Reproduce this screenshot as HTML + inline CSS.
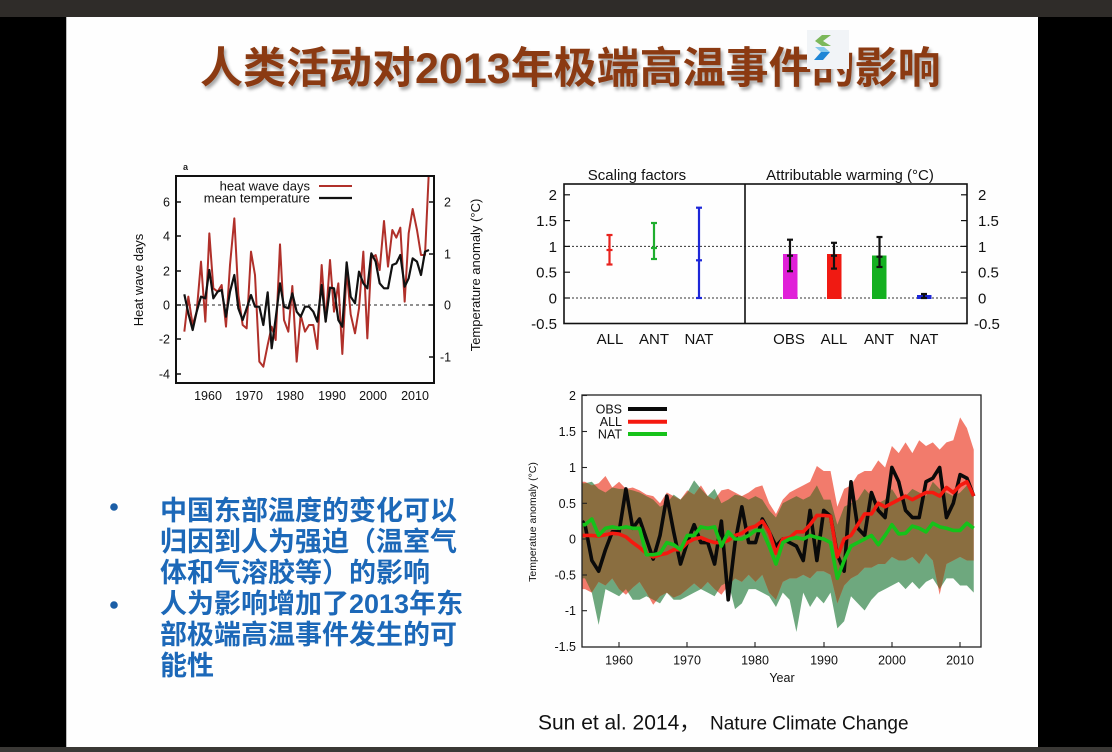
<!DOCTYPE html>
<html>
<head>
<meta charset="utf-8">
<style>
  html,body{margin:0;padding:0;background:#000;}
  #root{position:relative;width:1112px;height:752px;overflow:hidden;background:#000;}
  .topbar{position:absolute;left:0;top:0;width:1112px;height:17px;background:#2f2c29;}
  .botbar{position:absolute;left:0;top:747px;width:1112px;height:5px;background:#3a3835;}
  .slide{position:absolute;left:66px;top:17px;width:972px;height:730px;background:#fefefe;border-left:1px solid #bbb;box-sizing:border-box;}
  .title{position:absolute;left:200px;top:48px;font-family:"Liberation Sans","Noto Sans CJK SC",sans-serif;font-weight:bold;font-size:43px;line-height:43px;color:#8b3a12;white-space:nowrap;text-shadow:2px 3px 3px rgba(0,0,0,0.35);}
  .bl{position:absolute;left:160px;font-family:"Liberation Sans","Noto Sans CJK SC",sans-serif;font-weight:bold;font-size:27px;line-height:31px;color:#1c68b8;white-space:nowrap;}
  svg{position:absolute;left:0;top:0;}
</style>
</head>
<body>
<div id="root">
  <div class="topbar"></div>
  <div class="slide"></div>
  <div class="botbar"></div>

  <div class="title">人类活动对2013年极端高温事件的影响</div>

  <div class="bl" style="top:496px;">中国东部温度的变化可以</div>
  <div class="bl" style="top:527px;">归因到人为强迫（温室气</div>
  <div class="bl" style="top:558px;">体和气溶胶等）的影响</div>
  <div class="bl" style="top:589px;">人为影响增加了2013年东</div>
  <div class="bl" style="top:620px;">部极端高温事件发生的可</div>
  <div class="bl" style="top:651px;">能性</div>

  <svg width="1112" height="752" viewBox="0 0 1112 752" xmlns="http://www.w3.org/2000/svg" font-family="Liberation Sans, Arial, sans-serif">
    <defs>
      <clipPath id="clipL"><rect x="176" y="176" width="258" height="207"/></clipPath>
      <clipPath id="clipB"><rect x="582" y="395" width="399" height="252"/></clipPath>
      <clipPath id="clipNat">
        <polygon points="-0.5,78 0,78 1,80 2,70 3,65 4,72 5,70 6,70 7,68 8,65 9,60 10,55 11,45 12,50 13,62 14,55 15,65 16,82 17,70 18,60 19,70 20,50 21,55 22,62 23,60 24,55 25,60 26,55 27,40 28,30 29,50 30,55 31,60 32,55 33,60 34,75 35,55 36,55 37,20 38,45 39,50 40,55 41,70 42,60 43,50 44,55 45,70 46,55 47,60 48,70 49,65 50,60 51,80 52,70 53,65 54,60 55,65 56,75 57,60 57,-75 56,-65 55,-65 54,-55 53,-55 52,-70 51,-55 50,-60 49,-70 48,-60 47,-70 46,-60 45,-65 44,-70 43,-75 42,-85 41,-100 40,-90 39,-80 38,-115 37,-125 36,-75 35,-90 34,-80 33,-95 32,-75 31,-130 30,-85 29,-75 28,-95 27,-80 26,-75 25,-70 24,-70 23,-90 22,-98 21,-60 20,-65 19,-80 18,-75 17,-70 16,-75 15,-80 14,-85 13,-85 12,-75 11,-90 10,-85 9,-80 8,-85 7,-85 6,-70 5,-80 4,-75 3,-70 2,-120 1,-75 0,-55 -0.5,-55"/>
      </clipPath>
    </defs>

    <!-- logo -->
    <rect x="807" y="30" width="42" height="39" fill="#f1f4f7"/>
    <polygon points="822,35 831,35 823,41 831,46 822,46 815,41" fill="#7cb85a"/>
    <polygon points="815,47 824,47 830,52 821,52" fill="#86c8ec"/>
    <polygon points="821,52 830,52 823,60 814,60" fill="#1f86d6"/>

    <!-- bullets -->
    <circle cx="114" cy="507" r="3.8" fill="#1b5ea6"/>
    <circle cx="114" cy="605" r="3.8" fill="#1b5ea6"/>

    <!-- ============ LEFT CHART ============ -->
    <text x="183" y="170" font-size="9" font-weight="bold" fill="#222">a</text>
    <line x1="176" y1="305" x2="434" y2="305" stroke="#222" stroke-width="1" stroke-dasharray="3,3"/>
    <g clip-path="url(#clipL)">
      <g transform="translate(120,155) scale(0.333333)">
        <polyline fill="none" stroke="#b0302a" stroke-width="2" vector-effect="non-scaling-stroke" stroke-linejoin="round"
          points="193,530 205,425 218,510 230,470 243,320 256,500 268,235 280,400 293,410 305,390 318,515 330,330 343,190 355,420 368,510 380,520 393,290 405,360 418,620 430,635 443,570 455,515 467,555 480,268 492,495 505,530 517,393 530,620 542,480 555,530 567,510 580,510 592,582 605,330 617,500 630,315 642,470 655,385 667,597 680,345 692,478 705,535 717,460 730,290 742,550 754,310 767,300 779,345 792,198 804,335 817,225 829,248 841,218 854,440 866,235 878,162 891,225 903,300 915,300 927,40"/>
        <polyline fill="none" stroke="#111" stroke-width="2.2" vector-effect="non-scaling-stroke" stroke-linejoin="round"
          points="193,418 205,475 218,525 230,470 243,425 256,430 268,345 280,430 293,410 305,405 318,485 330,410 343,360 355,460 368,495 380,460 393,420 405,455 418,455 430,510 443,412 455,580 467,490 480,385 492,455 505,460 517,415 530,470 542,485 555,455 567,455 580,470 592,500 605,390 617,500 630,398 642,400 655,495 667,515 680,322 692,425 705,445 717,350 730,385 742,400 754,295 767,320 779,385 792,400 804,400 817,330 829,325 841,300 854,395 866,370 878,310 891,320 903,360 915,290 927,285"/>
      </g>
    </g>
    <rect x="176" y="176" width="258" height="207" fill="none" stroke="#111" stroke-width="2"/>
    <!-- left ticks -->
    <g stroke="#111" stroke-width="1.5">
      <line x1="176" y1="202" x2="181" y2="202"/><line x1="176" y1="236" x2="181" y2="236"/>
      <line x1="176" y1="271" x2="181" y2="271"/><line x1="176" y1="305" x2="181" y2="305"/>
      <line x1="176" y1="339" x2="181" y2="339"/><line x1="176" y1="374" x2="181" y2="374"/>
      <line x1="429" y1="202" x2="434" y2="202"/><line x1="429" y1="254" x2="434" y2="254"/>
      <line x1="429" y1="305" x2="434" y2="305"/><line x1="429" y1="357" x2="434" y2="357"/>
    </g>
    <g font-size="12.5" fill="#111" text-anchor="end">
      <text x="170" y="206.5">6</text><text x="170" y="240.5">4</text><text x="170" y="275.5">2</text>
      <text x="170" y="309.5">0</text><text x="170" y="343.5">-2</text><text x="170" y="378.5">-4</text>
    </g>
    <g font-size="12.5" fill="#111">
      <text x="444" y="206.5">2</text><text x="444" y="258.5">1</text><text x="444" y="309.5">0</text><text x="440" y="361.5">-1</text>
    </g>
    <g font-size="12.5" fill="#111" text-anchor="middle">
      <text x="208" y="400">1960</text><text x="249" y="400">1970</text><text x="290" y="400">1980</text>
      <text x="332" y="400">1990</text><text x="373" y="400">2000</text><text x="415" y="400">2010</text>
    </g>
    <text transform="translate(143,280) rotate(-90)" font-size="13" fill="#111" text-anchor="middle">Heat wave days</text>
    <text transform="translate(480,275) rotate(-90)" font-size="13" fill="#111" text-anchor="middle">Temperature anomaly (°C)</text>
    <g font-size="13" fill="#111" text-anchor="end">
      <text x="310" y="190.5">heat wave days</text>
      <text x="310" y="202.5">mean temperature</text>
    </g>
    <line x1="319" y1="186" x2="352" y2="186" stroke="#b0302a" stroke-width="2"/>
    <line x1="319" y1="198" x2="352" y2="198" stroke="#111" stroke-width="2.2"/>

    <!-- ============ TOP RIGHT CHART ============ -->
    <g font-size="15" fill="#111" text-anchor="middle">
      <text x="637" y="180">Scaling factors</text>
      <text x="850" y="180">Attributable warming (°C)</text>
    </g>
    <g stroke="#333" stroke-width="1" stroke-dasharray="2,2">
      <line x1="564" y1="246.4" x2="967" y2="246.4"/>
      <line x1="564" y1="298" x2="967" y2="298"/>
    </g>
    <!-- scaling error bars -->
    <g stroke-width="2.2" fill="none">
      <g stroke="#e8231e">
        <line x1="609.5" y1="235" x2="609.5" y2="264.5"/>
        <line x1="606.5" y1="235" x2="612.5" y2="235"/><line x1="606.5" y1="264.5" x2="612.5" y2="264.5"/>
        <line x1="606.5" y1="250" x2="612.5" y2="250"/>
      </g>
      <g stroke="#1fae2e">
        <line x1="654" y1="223" x2="654" y2="259"/>
        <line x1="651" y1="223" x2="657" y2="223"/><line x1="651" y1="259" x2="657" y2="259"/>
        <line x1="651" y1="248" x2="657" y2="248"/>
      </g>
      <g stroke="#1d27d8">
        <line x1="699" y1="207.7" x2="699" y2="298"/>
        <line x1="696" y1="207.7" x2="702" y2="207.7"/><line x1="696" y1="298" x2="702" y2="298"/>
        <line x1="696" y1="260.3" x2="702" y2="260.3"/>
      </g>
    </g>
    <!-- bars -->
    <rect x="783" y="254" width="14.5" height="45" fill="#e020d8"/>
    <rect x="827" y="254" width="14.5" height="45" fill="#f01a12"/>
    <rect x="872" y="255.5" width="14.5" height="43.5" fill="#14b020"/>
    <rect x="917" y="295" width="14.5" height="4" fill="#1d27d8"/>
    <g stroke="#111" stroke-width="2.2">
      <line x1="790" y1="239.7" x2="790" y2="271.2"/><line x1="787" y1="239.7" x2="793" y2="239.7"/><line x1="787" y1="271.2" x2="793" y2="271.2"/><line x1="787" y1="255.7" x2="793" y2="255.7"/>
      <line x1="834" y1="242.8" x2="834" y2="268.6"/><line x1="831" y1="242.8" x2="837" y2="242.8"/><line x1="831" y1="268.6" x2="837" y2="268.6"/><line x1="831" y1="255.7" x2="837" y2="255.7"/>
      <line x1="879.5" y1="237" x2="879.5" y2="267"/><line x1="876.5" y1="237" x2="882.5" y2="237"/><line x1="876.5" y1="267" x2="882.5" y2="267"/><line x1="876.5" y1="256.7" x2="882.5" y2="256.7"/>
      <line x1="924" y1="294" x2="924" y2="298.5"/><line x1="921" y1="294" x2="927" y2="294"/><line x1="921" y1="298" x2="927" y2="298"/>
    </g>
    <rect x="564" y="184" width="403" height="139.5" fill="none" stroke="#111" stroke-width="1.6"/>
    <line x1="745" y1="184" x2="745" y2="323.5" stroke="#111" stroke-width="1.6"/>
    <g stroke="#111" stroke-width="1.2">
      <line x1="564" y1="194.8" x2="570" y2="194.8"/><line x1="564" y1="220.6" x2="570" y2="220.6"/>
      <line x1="564" y1="246.4" x2="570" y2="246.4"/><line x1="564" y1="272.2" x2="570" y2="272.2"/>
      <line x1="564" y1="298" x2="570" y2="298"/>
      <line x1="961" y1="194.8" x2="967" y2="194.8"/><line x1="961" y1="220.6" x2="967" y2="220.6"/>
      <line x1="961" y1="246.4" x2="967" y2="246.4"/><line x1="961" y1="272.2" x2="967" y2="272.2"/>
      <line x1="961" y1="298" x2="967" y2="298"/>
    </g>
    <g font-size="15" fill="#111" text-anchor="end">
      <text x="557" y="200.2">2</text><text x="557" y="226">1.5</text><text x="557" y="251.8">1</text>
      <text x="557" y="277.6">0.5</text><text x="557" y="303.4">0</text><text x="557" y="329">-0.5</text>
    </g>
    <g font-size="15" fill="#111">
      <text x="978" y="200.2">2</text><text x="978" y="226">1.5</text><text x="978" y="251.8">1</text>
      <text x="978" y="277.6">0.5</text><text x="978" y="303.4">0</text><text x="974" y="329">-0.5</text>
    </g>
    <g font-size="15" fill="#111" text-anchor="middle">
      <text x="610" y="344">ALL</text><text x="654" y="344">ANT</text><text x="699" y="344">NAT</text>
      <text x="789" y="344">OBS</text><text x="834" y="344">ALL</text><text x="879" y="344">ANT</text><text x="924" y="344">NAT</text>
    </g>

    <!-- ============ BOTTOM RIGHT CHART ============ -->
    <g clip-path="url(#clipB)">
      <g transform="translate(585,539) scale(6.82,-0.7153)">
        <polygon fill="#6ea87e" points="-0.5,78 0,78 1,80 2,70 3,65 4,72 5,70 6,70 7,68 8,65 9,60 10,55 11,45 12,50 13,62 14,55 15,65 16,82 17,70 18,60 19,70 20,50 21,55 22,62 23,60 24,55 25,60 26,55 27,40 28,30 29,50 30,55 31,60 32,55 33,60 34,75 35,55 36,55 37,20 38,45 39,50 40,55 41,70 42,60 43,50 44,55 45,70 46,55 47,60 48,70 49,65 50,60 51,80 52,70 53,65 54,60 55,65 56,75 57,60 57,-75 56,-65 55,-65 54,-55 53,-55 52,-70 51,-55 50,-60 49,-70 48,-60 47,-70 46,-60 45,-65 44,-70 43,-75 42,-85 41,-100 40,-90 39,-80 38,-115 37,-125 36,-75 35,-90 34,-80 33,-95 32,-75 31,-130 30,-85 29,-75 28,-95 27,-80 26,-75 25,-70 24,-70 23,-90 22,-98 21,-60 20,-65 19,-80 18,-75 17,-70 16,-75 15,-80 14,-85 13,-85 12,-75 11,-90 10,-85 9,-80 8,-85 7,-85 6,-70 5,-80 4,-75 3,-70 2,-120 1,-75 0,-55 -0.5,-55"/>
        <polygon id="allband" fill="#f27b6c" points="-0.5,80 0,80 1,75 2,78 3,88 4,72 5,80 6,70 7,72 8,68 9,62 10,60 11,50 12,65 13,60 14,55 15,68 16,62 17,75 18,60 19,55 20,68 21,70 22,65 23,60 24,65 25,72 26,75 27,50 28,35 29,55 30,65 31,70 32,75 33,80 34,102 35,95 36,95 37,45 38,70 39,75 40,90 41,95 42,95 43,110 44,100 45,130 46,120 47,135 48,120 49,138 50,130 51,135 52,125 53,135 54,138 55,170 56,155 57,125 57,-30 56,-30 55,-25 54,-30 53,-35 52,-78 51,-30 50,-20 49,-35 48,-25 47,-30 46,-30 45,-25 44,-35 43,-35 42,-40 41,-40 40,-50 39,-55 38,-65 37,-90 36,-50 35,-45 34,-45 33,-55 32,-50 31,-55 30,-55 29,-60 28,-85 27,-75 26,-50 25,-60 24,-50 23,-60 22,-55 21,-65 20,-78 19,-70 18,-60 17,-70 16,-62 15,-70 14,-78 13,-82 12,-75 11,-80 10,-92 9,-75 8,-60 7,-68 6,-78 5,-70 4,-55 3,-65 2,-60 1,-75 0,-70 -0.5,-70"/>
        <polygon clip-path="url(#clipNat)" fill="#8a6e40" points="-0.5,80 0,80 1,75 2,78 3,88 4,72 5,80 6,70 7,72 8,68 9,62 10,60 11,50 12,65 13,60 14,55 15,68 16,62 17,75 18,60 19,55 20,68 21,70 22,65 23,60 24,65 25,72 26,75 27,50 28,35 29,55 30,65 31,70 32,75 33,80 34,102 35,95 36,95 37,45 38,70 39,75 40,90 41,95 42,95 43,110 44,100 45,130 46,120 47,135 48,120 49,138 50,130 51,135 52,125 53,135 54,138 55,170 56,155 57,125 57,-30 56,-30 55,-25 54,-30 53,-35 52,-78 51,-30 50,-20 49,-35 48,-25 47,-30 46,-30 45,-25 44,-35 43,-35 42,-40 41,-40 40,-50 39,-55 38,-65 37,-90 36,-50 35,-45 34,-45 33,-55 32,-50 31,-55 30,-55 29,-60 28,-85 27,-75 26,-50 25,-60 24,-50 23,-60 22,-55 21,-65 20,-78 19,-70 18,-60 17,-70 16,-62 15,-70 14,-78 13,-82 12,-75 11,-80 10,-92 9,-75 8,-60 7,-68 6,-78 5,-70 4,-55 3,-65 2,-60 1,-75 0,-70 -0.5,-70"/>
        <polyline fill="none" stroke="#0a0a0a" stroke-width="3.6" vector-effect="non-scaling-stroke" stroke-linejoin="round"
          points="-0.4,25 0,20 1,-30 2,-45 3,-15 4,10 5,10 6,70 7,15 8,28 9,0 10,-28 11,5 12,60 13,10 14,-35 15,-5 16,20 17,-5 18,-5 19,-35 20,25 21,-85 22,-5 23,45 24,-5 25,-5 26,28 27,10 28,-10 29,0 30,-5 31,-10 32,-30 33,40 34,-30 35,40 36,32 37,-22 38,-45 39,80 40,15 41,5 42,65 43,40 44,30 45,100 46,80 47,40 48,30 49,30 50,80 51,85 52,100 53,30 54,50 55,90 56,85 57,60"/>
        <polyline fill="none" stroke="#f5190f" stroke-width="3.6" vector-effect="non-scaling-stroke" stroke-linejoin="round"
          points="-0.4,5 0,5 1,5 2,4 3,6 4,8 5,7 6,3 7,-5 8,-12 9,-20 10,-25 11,-22 12,-20 13,-15 14,-15 15,-5 16,0 17,2 18,-2 19,-5 20,-5 21,-2 22,5 23,8 24,15 25,18 26,25 27,10 28,-20 29,0 30,2 31,10 32,10 33,20 34,33 35,33 36,32 37,-25 38,0 39,5 40,20 41,35 42,35 43,50 44,45 45,50 46,55 47,60 48,55 49,60 50,65 51,65 52,60 53,72 54,65 55,75 56,80 57,60"/>
        <polyline fill="none" stroke="#16c21a" stroke-width="3.6" vector-effect="non-scaling-stroke" stroke-linejoin="round"
          points="-0.4,20 0,20 1,28 2,5 3,15 4,17 5,15 6,17 7,15 8,15 9,-22 10,-22 11,-20 12,-5 13,-8 14,-15 15,5 16,5 17,17 18,15 19,17 20,-10 21,10 22,0 23,0 24,5 25,12 26,12 27,-10 28,-35 29,-5 30,0 31,2 32,0 33,5 34,2 35,0 36,-5 37,-55 38,-30 39,-10 40,-5 41,0 42,5 43,-8 44,5 45,20 46,7 47,8 48,18 49,15 50,10 51,22 52,17 53,15 54,12 55,12 56,22 57,15"/>
      </g>
    </g>
    <rect x="582" y="395" width="399" height="252" fill="none" stroke="#222" stroke-width="1.3"/>
    <g stroke="#222" stroke-width="1.1">
      <line x1="582" y1="395.5" x2="587" y2="395.5"/><line x1="582" y1="431.5" x2="587" y2="431.5"/>
      <line x1="582" y1="467.5" x2="587" y2="467.5"/><line x1="582" y1="503.3" x2="587" y2="503.3"/>
      <line x1="582" y1="539" x2="587" y2="539"/><line x1="582" y1="575" x2="587" y2="575"/>
      <line x1="582" y1="610.7" x2="587" y2="610.7"/>
      <line x1="619" y1="647" x2="619" y2="642"/><line x1="687" y1="647" x2="687" y2="642"/>
      <line x1="755" y1="647" x2="755" y2="642"/><line x1="824" y1="647" x2="824" y2="642"/>
      <line x1="892" y1="647" x2="892" y2="642"/><line x1="960" y1="647" x2="960" y2="642"/>
    </g>
    <g font-size="12.5" fill="#111" text-anchor="end">
      <text x="576" y="400">2</text><text x="576" y="436">1.5</text><text x="576" y="472">1</text>
      <text x="576" y="508">0.5</text><text x="576" y="543.5">0</text><text x="576" y="579.5">-0.5</text>
      <text x="576" y="615">-1</text><text x="576" y="651">-1.5</text>
    </g>
    <g font-size="12.5" fill="#111" text-anchor="middle">
      <text x="619" y="664.5">1960</text><text x="687" y="664.5">1970</text><text x="755" y="664.5">1980</text>
      <text x="824" y="664.5">1990</text><text x="892" y="664.5">2000</text><text x="960" y="664.5">2010</text>
      <text x="782" y="682">Year</text>
    </g>
    <text transform="translate(536,522) rotate(-90)" font-size="10.5" fill="#111" text-anchor="middle">Temperatue anomaly (°C)</text>
    <g font-size="12.5" fill="#111" text-anchor="end">
      <text x="622" y="413.5">OBS</text><text x="622" y="426">ALL</text><text x="622" y="438.5">NAT</text>
    </g>
    <line x1="628" y1="409" x2="667" y2="409" stroke="#0a0a0a" stroke-width="4"/>
    <line x1="628" y1="421.7" x2="667" y2="421.7" stroke="#f5190f" stroke-width="4"/>
    <line x1="628" y1="434" x2="667" y2="434" stroke="#16c21a" stroke-width="4"/>

    <!-- citation -->
    <text x="538" y="729.5" font-size="21" fill="#111" font-family="Liberation Sans, Noto Sans CJK SC, sans-serif">Sun et al. 2014，</text>
    <text x="710" y="729.5" font-size="19" fill="#111">Nature Climate Change</text>
  </svg>
</div>
</body>
</html>
